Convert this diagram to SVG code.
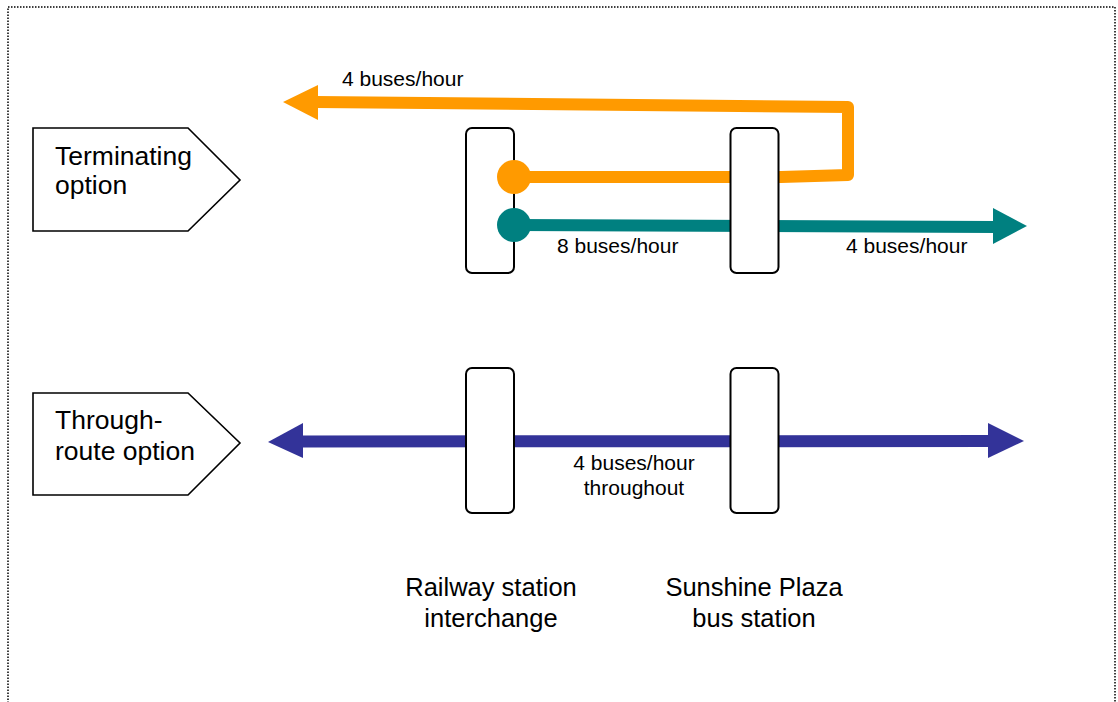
<svg xmlns="http://www.w3.org/2000/svg" width="1118" height="702" viewBox="0 0 1118 702">
<style>
.lbl{font-family:"Liberation Sans",Arial,sans-serif;fill:#000}
.big{font-size:25.5px}
.opttxt{font-size:26.5px}
.small{font-size:21px}
.stn{fill:#fff;stroke:#000;stroke-width:2}
.opt{fill:#fff;stroke:#000;stroke-width:1.6}
.line{fill:none;stroke-width:12}
</style>
<rect x="8" y="7" width="1107" height="720" fill="none" stroke="#000" stroke-width="1.5" stroke-dasharray="1.5 1.5"/>
<g id="connectors">
  <path class="line" d="M514,177 L781,177 L848,175 L848,107 L316,102" stroke="#FF9A00" stroke-linejoin="round"/>
  <polygon points="283,102 318,85 318,120" fill="#FF9A00"/>
  <path class="line" d="M514,225 L995,227" stroke="#008080"/>
  <polygon points="993,208 1027,226 993,244" fill="#008080"/>
  <path class="line" d="M301,441.5 L990,441" stroke="#333399" stroke-width="11.5"/>
  <polygon points="268,442 303,423 303,458" fill="#333399"/>
  <polygon points="988,423 1024,441 988,458" fill="#333399"/>
  <text class="lbl small" x="342" y="86">4 buses/hour</text>
  <text class="lbl small" x="557" y="253">8 buses/hour</text>
  <text class="lbl small" x="846" y="253">4 buses/hour</text>
  <text class="lbl small" x="634" y="470" text-anchor="middle">4 buses/hour</text>
  <text class="lbl small" x="634" y="495" text-anchor="middle">throughout</text>
</g>
<g id="option-terminating">
  <polygon class="opt" points="33,128 188,128 240,180 188,231 33,231"/>
  <text class="lbl opttxt" x="55" y="165">Terminating</text>
  <text class="lbl opttxt" x="55" y="194">option</text>
</g>
<g id="option-through">
  <polygon class="opt" points="33,393 188,393 240,443 188,495 33,495"/>
  <text class="lbl opttxt" x="55" y="429">Through-</text>
  <text class="lbl opttxt" x="55" y="460">route option</text>
</g>
<g id="station-railway">
  <rect class="stn" x="466" y="128" width="48" height="145" rx="6"/>
  <rect class="stn" x="466" y="368" width="48" height="145" rx="6"/>
  <text class="lbl big" x="491" y="596" text-anchor="middle">Railway station</text>
  <text class="lbl big" x="491" y="627" text-anchor="middle">interchange</text>
</g>
<g id="station-sunshine">
  <rect class="stn" x="730.5" y="128" width="48" height="145" rx="6"/>
  <rect class="stn" x="730.5" y="368" width="48" height="145" rx="6"/>
  <text class="lbl big" x="754" y="596" text-anchor="middle">Sunshine Plaza</text>
  <text class="lbl big" x="754" y="627" text-anchor="middle">bus station</text>
</g>
<g id="termini">
  <circle cx="514" cy="177" r="17" fill="#FF9A00"/>
  <circle cx="514" cy="225" r="17" fill="#008080"/>
</g>
</svg>
